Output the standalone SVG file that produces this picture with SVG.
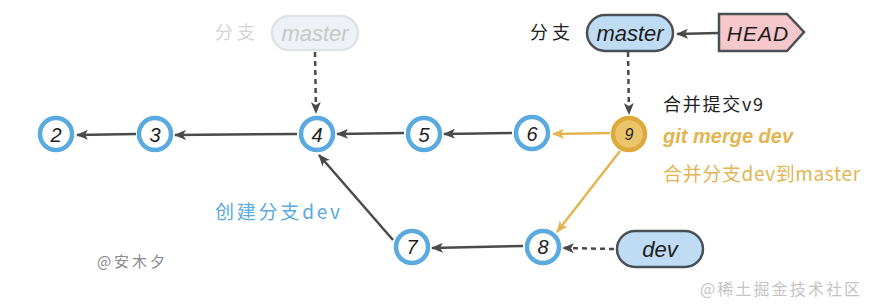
<svg xmlns="http://www.w3.org/2000/svg" width="873" height="307" viewBox="0 0 873 307">
<defs>
<style>
.bg{fill:#ffffff}
.node circle{fill:#ffffff;stroke:#5aaae0;stroke-width:4.5}
.node text{font-family:"Liberation Sans",sans-serif;font-style:italic;font-size:20px;fill:#1e1e1e;text-anchor:middle;dominant-baseline:central}
.merge circle{fill:#ecc46a;stroke:#dcaa3c}
.edge{stroke:#4a4a4a;stroke-width:2.5;fill:none}
.gold{stroke:#e2b552;stroke-width:2.5;fill:none}
.dash{stroke:#4a4a4a;stroke-width:2.5;fill:none;stroke-dasharray:5 4}
.pill{fill:#bfdcf4;stroke:#4a4f55;stroke-width:2.5}
.pillfade{fill:#eef2f6;stroke:#dfe3e8;stroke-width:2.5}
.lbl{font-family:"Liberation Sans",sans-serif;font-style:italic;font-size:22px;fill:#1e1e1e;text-anchor:middle;dominant-baseline:central}
.cjk{font-family:"Noto Sans CJK SC",sans-serif;font-size:18px}
</style>
<marker id="ah" viewBox="0 0 12 10" refX="11" refY="5" markerWidth="12" markerHeight="10" markerUnits="userSpaceOnUse" orient="auto">
<path d="M0,0 L12,5 L0,10 L3,5 Z" fill="#4a4a4a"/>
</marker>
<marker id="ahg" viewBox="0 0 12 10" refX="11" refY="5" markerWidth="12" markerHeight="10" markerUnits="userSpaceOnUse" orient="auto">
<path d="M0,0 L12,5 L0,10 L3,5 Z" fill="#e2b552"/>
</marker>
</defs>
<rect class="bg" x="0" y="0" width="873" height="307"/>

<g id="connectors">
<line class="edge" x1="136" y1="134" x2="77" y2="135" marker-end="url(#ah)"/>
<line class="edge" x1="297" y1="134" x2="175" y2="135" marker-end="url(#ah)"/>
<line class="edge" x1="404" y1="133" x2="337" y2="134" marker-end="url(#ah)"/>
<line class="edge" x1="512" y1="133" x2="444" y2="134" marker-end="url(#ah)"/>
<line class="gold" x1="610" y1="133" x2="553" y2="134" marker-end="url(#ahg)"/>
<line class="gold" x1="620" y1="151" x2="557" y2="232" marker-end="url(#ahg)"/>
<line class="edge" x1="393" y1="240" x2="319" y2="155" marker-end="url(#ah)"/>
<line class="edge" x1="523" y1="246" x2="432" y2="248" marker-end="url(#ah)"/>
<line class="dash" x1="315" y1="52" x2="316" y2="113" marker-end="url(#ah)"/>
<line class="dash" x1="628" y1="52" x2="629" y2="114" marker-end="url(#ah)"/>
<line class="edge" x1="718" y1="33" x2="677" y2="34" marker-end="url(#ah)"/>
<line class="dash" x1="614" y1="249" x2="563" y2="248" marker-end="url(#ah)"/>
</g>

<g id="n2" class="node"><circle cx="56" cy="134" r="16"/><text x="56" y="135">2</text></g>
<g id="n3" class="node"><circle cx="155" cy="134" r="16"/><text x="155" y="135">3</text></g>
<g id="n4" class="node"><circle cx="317" cy="134" r="16"/><text x="317" y="135">4</text></g>
<g id="n5" class="node"><circle cx="424" cy="134" r="16"/><text x="424" y="135">5</text></g>
<g id="n6" class="node"><circle cx="532" cy="133" r="16"/><text x="532" y="134">6</text></g>
<g id="n9" class="node merge"><circle cx="629" cy="134" r="16"/><text x="629" y="134" style="font-size:16px">9</text></g>
<g id="n7" class="node"><circle cx="412" cy="247" r="16"/><text x="412" y="247">7</text></g>
<g id="n8" class="node"><circle cx="543" cy="247" r="16"/><text x="543" y="247">8</text></g>

<g id="master-old">
<text x="215" y="39" class="cjk" style="fill:#d4d4d4" textLength="40" lengthAdjust="spacing">分支</text>
<rect class="pillfade" x="272" y="16" width="86" height="34" rx="17"/>
<text class="lbl" x="315" y="33" style="fill:#c8c8c8">master</text>
</g>

<g id="master">
<text x="530" y="39" class="cjk" style="fill:#1e1e1e" textLength="40" lengthAdjust="spacing">分支</text>
<rect class="pill" x="587" y="15" width="86" height="36" rx="18"/>
<text class="lbl" x="630" y="33">master</text>
</g>

<g id="head">
<path d="M719,14 L787,14 L804,32 L787,51 L719,51 Z" fill="#f6c8cb" stroke="#4a4f55" stroke-width="2.5"/>
<text class="lbl" x="758" y="33" style="font-size:21px;letter-spacing:1px">HEAD</text>
</g>

<g id="dev">
<rect class="pill" x="617" y="231" width="86" height="36" rx="18"/>
<text class="lbl" x="660" y="249">dev</text>
</g>

<g id="labels">
<text x="663" y="111" class="cjk" style="fill:#1e1e1e" textLength="100" lengthAdjust="spacing">合并提交v9</text>
<text x="663" y="143" style="font-family:'Liberation Sans',sans-serif;font-style:italic;font-weight:bold;font-size:20px;fill:#e2b552">git merge dev</text>
<text x="663" y="181" class="cjk" style="fill:#e2b552;font-size:19px" textLength="197" lengthAdjust="spacing">合并分支dev到master</text>
<text x="215" y="219" class="cjk" style="fill:#5aaae0;font-size:19px" textLength="125" lengthAdjust="spacing">创建分支dev</text>
<text x="97" y="267" class="cjk" style="fill:#8a8a8a;font-size:15px" textLength="68" lengthAdjust="spacing">@安木夕</text>
<text x="700" y="295" class="cjk" style="fill:#c4c4c4;font-size:16px" textLength="160" lengthAdjust="spacing">@稀土掘金技术社区</text>
</g>
</svg>
